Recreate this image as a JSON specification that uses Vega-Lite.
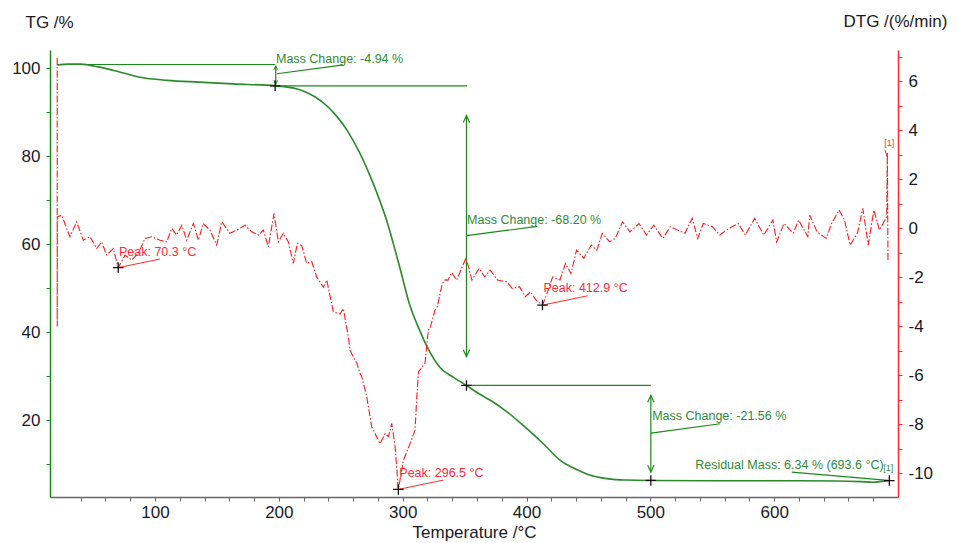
{
  "$schema": "https://vega.github.io/schema/vega-lite/v6.json",
  "width": 848,
  "height": 447,
  "autosize": "none",
  "padding": {"left": 50, "top": 50, "right": 59, "bottom": 46},
  "background": "white",
  "config": {"view": {"stroke": null}, "font": "Liberation Sans"},
  "datasets": {
    "tg": [
      {"T": 21, "TG": 100.8}, {"T": 30, "TG": 101.0}, {"T": 40, "TG": 101.0}, {"T": 55, "TG": 100.3},
      {"T": 70, "TG": 99.3}, {"T": 88, "TG": 98.0}, {"T": 110, "TG": 97.3}, {"T": 136, "TG": 96.9},
      {"T": 163, "TG": 96.5}, {"T": 197, "TG": 96.06}, {"T": 214, "TG": 95.4}, {"T": 222, "TG": 94.6},
      {"T": 230, "TG": 93.4}, {"T": 238, "TG": 91.7}, {"T": 246, "TG": 89.4}, {"T": 255, "TG": 86.0},
      {"T": 265, "TG": 81.0}, {"T": 276, "TG": 74.0}, {"T": 287, "TG": 65.5}, {"T": 297, "TG": 55.5},
      {"T": 306, "TG": 46.0}, {"T": 314, "TG": 40.3}, {"T": 320, "TG": 36.6}, {"T": 330, "TG": 32.1},
      {"T": 341, "TG": 29.8}, {"T": 351.5, "TG": 27.95}, {"T": 362, "TG": 26.0}, {"T": 373, "TG": 24.2},
      {"T": 385, "TG": 21.8}, {"T": 398, "TG": 18.7}, {"T": 414, "TG": 14.6}, {"T": 427, "TG": 11.0},
      {"T": 441, "TG": 8.8}, {"T": 451, "TG": 7.6}, {"T": 460, "TG": 7.0}, {"T": 470, "TG": 6.6},
      {"T": 481, "TG": 6.45}, {"T": 500, "TG": 6.36}, {"T": 550, "TG": 6.3}, {"T": 600, "TG": 6.3},
      {"T": 650, "TG": 6.25}, {"T": 670, "TG": 6.1}, {"T": 680, "TG": 5.95}, {"T": 688, "TG": 6.2},
      {"T": 693.6, "TG": 6.34}
    ],
    "dtg": [
      {"T": 21.0, "D": 6.95}, {"T": 21.05, "D": -4.0}, {"T": 21.1, "D": 0.47}, {"T": 24.6, "D": 0.54},
      {"T": 31.3, "D": -0.34}, {"T": 36.7, "D": 0.27}, {"T": 42.1, "D": -0.48}, {"T": 47.5, "D": -0.34},
      {"T": 52.9, "D": -0.82}, {"T": 56.9, "D": -0.55}, {"T": 61.0, "D": -1.09}, {"T": 66.3, "D": -0.82},
      {"T": 70.3, "D": -1.6}, {"T": 75.8, "D": -1.09}, {"T": 81.2, "D": -1.29}, {"T": 86.5, "D": -1.02},
      {"T": 91.9, "D": -0.41}, {"T": 97.3, "D": -0.34}, {"T": 104.0, "D": -0.48}, {"T": 109.5, "D": -0.55},
      {"T": 113.5, "D": 0.0}, {"T": 117.5, "D": -0.27}, {"T": 121.6, "D": 0.13}, {"T": 125.6, "D": -0.48},
      {"T": 131.0, "D": 0.2}, {"T": 135.0, "D": -0.48}, {"T": 139.0, "D": 0.2}, {"T": 144.4, "D": -0.07},
      {"T": 149.8, "D": -0.68}, {"T": 153.9, "D": 0.27}, {"T": 160.6, "D": -0.2}, {"T": 166.0, "D": -0.07},
      {"T": 172.7, "D": 0.13}, {"T": 178.1, "D": -0.14}, {"T": 183.5, "D": -0.27}, {"T": 187.5, "D": -0.07},
      {"T": 191.5, "D": -0.75}, {"T": 196.1, "D": 0.61}, {"T": 199.6, "D": -0.55}, {"T": 203.6, "D": -0.2},
      {"T": 207.7, "D": -0.55}, {"T": 211.7, "D": -1.43}, {"T": 215.0, "D": -0.61}, {"T": 218.5, "D": -0.7},
      {"T": 222.5, "D": -1.43}, {"T": 226.6, "D": -1.36}, {"T": 230.6, "D": -1.98}, {"T": 236.0, "D": -2.4},
      {"T": 238.7, "D": -2.11}, {"T": 244.0, "D": -3.4}, {"T": 249.4, "D": -3.5}, {"T": 252.1, "D": -3.27},
      {"T": 256.1, "D": -4.42}, {"T": 257.5, "D": -4.97}, {"T": 261.5, "D": -5.38}, {"T": 263.0, "D": -5.5},
      {"T": 265.6, "D": -5.92}, {"T": 267.0, "D": -6.06}, {"T": 271.0, "D": -6.87}, {"T": 275.0, "D": -8.1},
      {"T": 281.7, "D": -8.78}, {"T": 285.8, "D": -8.37}, {"T": 288.5, "D": -8.5}, {"T": 291.2, "D": -7.96},
      {"T": 293.9, "D": -8.91}, {"T": 296.5, "D": -10.65}, {"T": 300.6, "D": -9.46}, {"T": 306.0, "D": -8.78},
      {"T": 310.0, "D": -8.23}, {"T": 311.4, "D": -6.87}, {"T": 312.8, "D": -5.85}, {"T": 318.0, "D": -5.51},
      {"T": 320.7, "D": -4.15}, {"T": 322.0, "D": -4.1}, {"T": 326.1, "D": -3.33}, {"T": 328.0, "D": -3.2},
      {"T": 330.2, "D": -2.65}, {"T": 332.1, "D": -2.24}, {"T": 334.2, "D": -2.1}, {"T": 336.6, "D": -2.11},
      {"T": 339.6, "D": -1.8}, {"T": 343.6, "D": -2.11}, {"T": 346.4, "D": -1.77}, {"T": 351.2, "D": -1.2},
      {"T": 355.9, "D": -2.11}, {"T": 361.8, "D": -1.63}, {"T": 366.2, "D": -1.98}, {"T": 370.7, "D": -1.7},
      {"T": 376.6, "D": -2.11}, {"T": 384.0, "D": -2.18}, {"T": 388.5, "D": -2.45}, {"T": 394.4, "D": -2.38},
      {"T": 398.9, "D": -2.79}, {"T": 403.3, "D": -2.59}, {"T": 407.7, "D": -2.93}, {"T": 412.9, "D": -3.13},
      {"T": 416.6, "D": -2.65}, {"T": 421.1, "D": -1.98}, {"T": 427.0, "D": -2.11}, {"T": 431.5, "D": -1.43},
      {"T": 435.9, "D": -1.84}, {"T": 440.4, "D": -0.89}, {"T": 446.3, "D": -1.22}, {"T": 452.3, "D": -0.68},
      {"T": 456.8, "D": -0.89}, {"T": 461.2, "D": -0.2}, {"T": 467.2, "D": -0.55}, {"T": 471.6, "D": -0.41},
      {"T": 477.6, "D": 0.27}, {"T": 483.5, "D": -0.14}, {"T": 490.9, "D": 0.2}, {"T": 496.9, "D": -0.27},
      {"T": 502.8, "D": 0.13}, {"T": 510.1, "D": -0.41}, {"T": 516.1, "D": 0.07}, {"T": 522.0, "D": -0.07},
      {"T": 528.0, "D": -0.2}, {"T": 533.8, "D": 0.41}, {"T": 538.3, "D": -0.41}, {"T": 542.7, "D": 0.2},
      {"T": 550.1, "D": 0.07}, {"T": 556.0, "D": -0.27}, {"T": 563.5, "D": 0.0}, {"T": 570.9, "D": 0.2},
      {"T": 576.8, "D": -0.27}, {"T": 584.2, "D": 0.41}, {"T": 591.6, "D": -0.27}, {"T": 599.0, "D": 0.34},
      {"T": 602.0, "D": -0.55}, {"T": 607.9, "D": 0.2}, {"T": 615.4, "D": -0.2}, {"T": 619.8, "D": 0.34},
      {"T": 627.2, "D": -0.34}, {"T": 628.7, "D": 0.54}, {"T": 634.6, "D": -0.14}, {"T": 642.0, "D": -0.41},
      {"T": 646.4, "D": 0.2}, {"T": 652.4, "D": 0.75}, {"T": 656.8, "D": 0.34}, {"T": 661.3, "D": -0.68},
      {"T": 667.2, "D": -0.2}, {"T": 671.6, "D": 0.82}, {"T": 676.0, "D": -0.68}, {"T": 680.5, "D": 0.75},
      {"T": 685.0, "D": -0.07}, {"T": 690.9, "D": 0.47}, {"T": 691.4, "D": 3.1}, {"T": 691.9, "D": -1.3}
    ],
    "tgLines": [
      {"T": 21, "TG": 100.9, "T2": 197, "TG2": 100.9},
      {"T": 197, "TG": 96.06, "T2": 352, "TG2": 96.06},
      {"T": 352, "TG": 27.95, "T2": 500.4, "TG2": 27.95},
      {"T": 197.5, "TG": 100.6, "T2": 197.5, "TG2": 96.4},
      {"T": 198.5, "TG": 98.8, "T2": 252, "TG2": 100.8},
      {"T": 351.5, "TG": 89.3, "T2": 351.5, "TG2": 34.5},
      {"T": 351.5, "TG": 62.0, "T2": 408.6, "TG2": 64.1},
      {"T": 500.4, "TG": 25.7, "T2": 500.4, "TG2": 8.25},
      {"T": 500.6, "TG": 17.1, "T2": 556.4, "TG2": 19.25},
      {"T": 614.3, "TG": 8.25, "T2": 692, "TG2": 6.36}
    ],
    "tgUp": [{"T": 351.5, "TG": 89.3}, {"T": 500.4, "TG": 25.7}],
    "tgDown": [{"T": 351.5, "TG": 34.5}, {"T": 500.4, "TG": 8.25}],
    "tgUpSmall": [{"T": 197.5, "TG": 100.6}],
    "tgDownSmall": [{"T": 197.5, "TG": 96.4}],
    "tgText": [
      {"T": 197.7, "TG": 102.2, "label": "Mass Change: -4.94 %"},
      {"T": 352.0, "TG": 65.6, "label": "Mass Change: -68.20 %"},
      {"T": 501.5, "TG": 20.9, "label": "Mass Change: -21.56 %"},
      {"T": 536.2, "TG": 9.77, "label": "Residual Mass: 6.34 % (693.6 °C)"}
    ],
    "tgSmallText": [{"T": 688.0, "TG": 9.1, "label": "[1]"}],
    "tgMarks": [{"T": 197, "TG": 96.06}, {"T": 351.5, "TG": 27.95}, {"T": 500.4, "TG": 6.36}, {"T": 693, "TG": 6.34}],
    "dtgLines": [
      {"T": 70.3, "D": -1.6, "T2": 104, "D2": -1.25},
      {"T": 296.5, "D": -10.65, "T2": 332.9, "D2": -10.27},
      {"T": 412.9, "D": -3.13, "T2": 449.3, "D2": -2.75},
      {"T": 689.5, "D": 3.2, "T2": 691.4, "D2": 2.9}
    ],
    "dtgText": [
      {"T": 70.9, "D": -0.95, "label": "Peak: 70.3 °C"},
      {"T": 297.3, "D": -9.97, "label": "Peak: 296.5 °C"},
      {"T": 413.7, "D": -2.45, "label": "Peak: 412.9 °C"}
    ],
    "dtgSmallText": [{"T": 688.9, "D": 3.48, "label": "[1]"}],
    "dtgMarks": [{"T": 70.3, "D": -1.6}, {"T": 296.5, "D": -10.65}, {"T": 412.9, "D": -3.13}]
  },
  "encoding": {
    "x": {
      "field": "T", "type": "quantitative",
      "scale": {"domain": [15.2, 700], "nice": false, "zero": false},
      "axis": {
        "title": "Temperature /°C", "titleFontSize": 17, "titleFontWeight": "normal", "titleColor": "#1a1a28",
        "titleY": 40, "titleBaseline": "alphabetic",
        "values": [40, 60, 80, 100, 120, 140, 160, 180, 200, 220, 240, 260, 280, 300, 320, 340, 360, 380, 400, 420, 440, 460, 480, 500, 520, 540, 560, 580, 600, 620, 640, 660, 680],
        "labelExpr": "datum.value % 100 === 0 ? datum.label : ''",
        "labelFontSize": 17, "labelColor": "#1a1a28", "labelPadding": 3,
        "tickSize": 4, "tickColor": "#666666", "domainColor": "#666666", "domainWidth": 1.5,
        "grid": false, "labelFlush": false, "labelOverlap": false
      }
    }
  },
  "layer": [
    {
      "encoding": {
        "y": {
          "field": "TG", "type": "quantitative",
          "scale": {"domain": [2.6, 104.2], "nice": false, "zero": false},
          "axis": {
            "orient": "left", "title": "TG /%", "titleAngle": 0, "titleAlign": "left", "titleBaseline": "alphabetic",
            "titleX": -25, "titleY": -23, "titleFontSize": 17, "titleFontWeight": "normal", "titleColor": "#1a1a28",
            "values": [10, 20, 30, 40, 50, 60, 70, 80, 90, 100],
            "labelExpr": "datum.value % 20 === 0 ? datum.label : ''",
            "labelFontSize": 17, "labelColor": "#1a1a28", "labelPadding": 6,
            "tickSize": 4, "tickColor": "#1a8a1a", "domainColor": "#1a8a1a", "domainWidth": 1.5,
            "grid": false, "labelOverlap": false
          }
        }
      },
      "layer": [
        {"data": {"name": "tgLines"}, "mark": {"type": "rule", "color": "#1a8a1a", "strokeWidth": 1.2},
         "encoding": {"x2": {"field": "T2"}, "y2": {"field": "TG2"}}},
        {"data": {"name": "tgUp"}, "mark": {"type": "point", "shape": "M-0.45,1L0,0L0.45,1", "filled": false, "stroke": "#1a8a1a", "strokeWidth": 1.2, "size": 196, "opacity": 1}},
        {"data": {"name": "tgDown"}, "mark": {"type": "point", "shape": "M-0.45,-1L0,0L0.45,-1", "filled": false, "stroke": "#1a8a1a", "strokeWidth": 1.2, "size": 196, "opacity": 1}},
        {"data": {"name": "tgUpSmall"}, "mark": {"type": "point", "shape": "M-0.45,1L0,0L0.45,1", "filled": false, "stroke": "#1a8a1a", "strokeWidth": 1, "size": 64, "opacity": 1}},
        {"data": {"name": "tgDownSmall"}, "mark": {"type": "point", "shape": "M-0.45,-1L0,0L0.45,-1", "filled": false, "stroke": "#1a8a1a", "strokeWidth": 1, "size": 64, "opacity": 1}},
        {"data": {"name": "tg"}, "mark": {"type": "line", "color": "#2a8a2a", "strokeWidth": 1.6, "interpolate": "monotone"}},
        {"data": {"name": "tgText"}, "mark": {"type": "text", "align": "left", "baseline": "middle", "fontSize": 12.5, "color": "#2f8a3a"},
         "encoding": {"text": {"field": "label"}}},
        {"data": {"name": "tgSmallText"}, "mark": {"type": "text", "align": "left", "baseline": "middle", "fontSize": 9, "color": "#2f8a3a"},
         "encoding": {"text": {"field": "label"}}},
        {"data": {"name": "tgMarks"}, "mark": {"type": "point", "shape": "M-1,0L1,0M0,-1L0,1", "filled": false, "stroke": "#111111", "strokeWidth": 1.3, "size": 110, "opacity": 1}}
      ]
    },
    {
      "encoding": {
        "y": {
          "field": "D", "type": "quantitative",
          "scale": {"domain": [-10.96, 7.28], "nice": false, "zero": false},
          "axis": {
            "orient": "right", "title": "DTG /(%/min)", "titleAngle": 0, "titleAlign": "left", "titleBaseline": "alphabetic",
            "titleX": -55, "titleY": -24, "titleFontSize": 17, "titleFontWeight": "normal", "titleColor": "#1a1a28",
            "values": [-10, -9, -8, -7, -6, -5, -4, -3, -2, -1, 0, 1, 2, 3, 4, 5, 6, 7],
            "labelExpr": "datum.value % 2 === 0 ? '' + datum.value : ''",
            "labelFontSize": 17, "labelColor": "#1a1a28", "labelPadding": 6,
            "tickSize": 4, "tickColor": "#ff2a2a", "domainColor": "#ff2a2a", "domainWidth": 1.5,
            "grid": false, "labelOverlap": false
          }
        }
      },
      "layer": [
        {"data": {"name": "dtg"}, "mark": {"type": "line", "color": "#ff1a1a", "strokeWidth": 1.1, "strokeDash": [7, 2, 1.5, 2]}},
        {"data": {"name": "dtgLines"}, "mark": {"type": "rule", "color": "#ff2a2a", "strokeWidth": 1},
         "encoding": {"x2": {"field": "T2"}, "y2": {"field": "D2"}}},
        {"data": {"name": "dtgText"}, "mark": {"type": "text", "align": "left", "baseline": "middle", "fontSize": 12.5, "color": "#ff2a3a"},
         "encoding": {"text": {"field": "label"}}},
        {"data": {"name": "dtgSmallText"}, "mark": {"type": "text", "align": "left", "baseline": "middle", "fontSize": 9, "color": "#ff2a3a"},
         "encoding": {"text": {"field": "label"}}},
        {"data": {"name": "dtgMarks"}, "mark": {"type": "point", "shape": "M-1,0L1,0M0,-1L0,1", "filled": false, "stroke": "#111111", "strokeWidth": 1.3, "size": 110, "opacity": 1}}
      ]
    }
  ],
  "resolve": {"scale": {"y": "independent"}}
}
